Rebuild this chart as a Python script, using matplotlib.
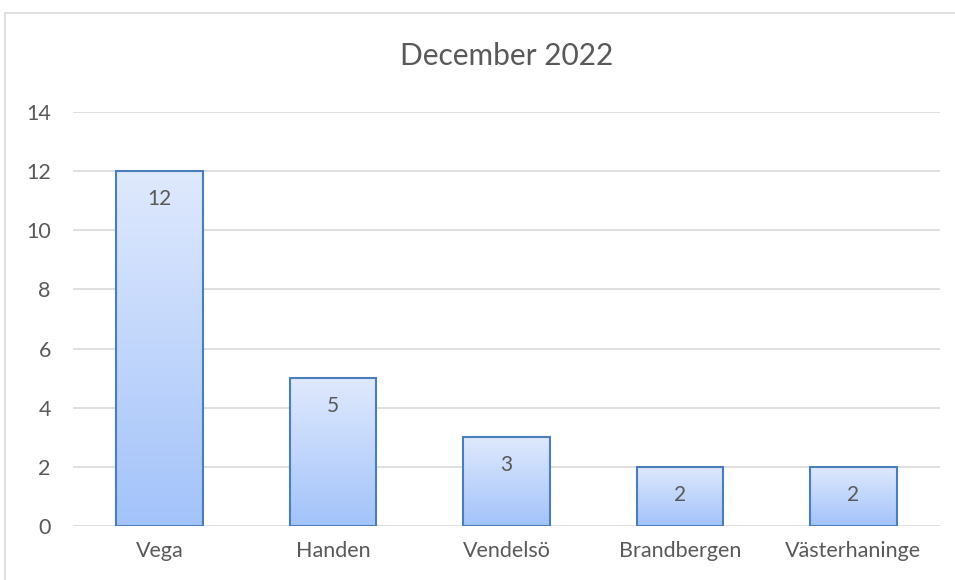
import numpy as np
import matplotlib.pyplot as plt
from matplotlib.lines import Line2D

# Datos
omraden = ["Vega", "Handen", "Vendelsö", "Brandbergen", "Västerhaninge"]
antal = [12, 5, 3, 2, 2]
y_ticks = [0, 2, 4, 6, 8, 10, 12, 14]

plt.rcParams['font.family'] = ['Lato', 'DejaVu Sans']
grå = '#595959'

fig = plt.figure(figsize=(9.55, 5.8), dpi=100)
ax = fig.add_axes([73/955, 1-526/580, 867/955, (526-112)/580])

x = np.arange(len(omraden))
bredd = 0.5
ax.set_xlim(-0.5, len(omraden)-0.5)
ax.set_ylim(0, 14)

# gradiente vertical dentro de cada barra
grad = np.linspace(0, 1, 256).reshape(-1, 1)
topp = np.array([0xDF, 0xE9, 0xFD]) / 255
botten = np.array([0xA3, 0xC3, 0xFA]) / 255
bild = topp + (botten - topp) * grad[:, :, None] * np.ones((1, 1, 3))

staplar = ax.bar(x, antal, width=bredd, color='none', edgecolor='#4A7EBB',
                 linewidth=1.5, zorder=3)
for s, v in zip(staplar, antal):
    x0 = s.get_x()
    im = ax.imshow(bild, extent=[x0, x0 + bredd, 0, v], aspect='auto',
                   zorder=2, origin='upper')
    im.set_clip_path(s)
    ax.annotate(str(v), (s.get_x() + bredd/2, v), xytext=(0, -28),
                textcoords='offset pixels', ha='center', va='center',
                fontsize=15, color=grå, zorder=4)

ax.set_xticks(x)
ax.set_xticklabels(omraden)
ax.set_yticks(y_ticks)
ax.tick_params(axis='both', length=0, labelsize=15.5, colors=grå)
ax.tick_params(axis='x', pad=11)
ax.tick_params(axis='y', pad=16)
ax.yaxis.grid(True, color='#d9d9d9', linewidth=1.2, zorder=0)
ax.set_axisbelow(True)
for sp in ax.spines.values():
    sp.set_visible(False)
ax.set_aspect('auto')

fig.text(0.5 * (73 + 940) / 955, 1 - 56/580, "December 2022",
         ha='center', va='center', fontsize=21.5, color=grå)

# ram runt diagrammet
fig.add_artist(Line2D([5/955, 1], [1-13/580, 1-13/580], color='#d9d9d9', lw=1.2))
fig.add_artist(Line2D([5/955, 5/955], [0, 1-13/580], color='#d9d9d9', lw=1.2))

fig.savefig('out.png', dpi=100)
